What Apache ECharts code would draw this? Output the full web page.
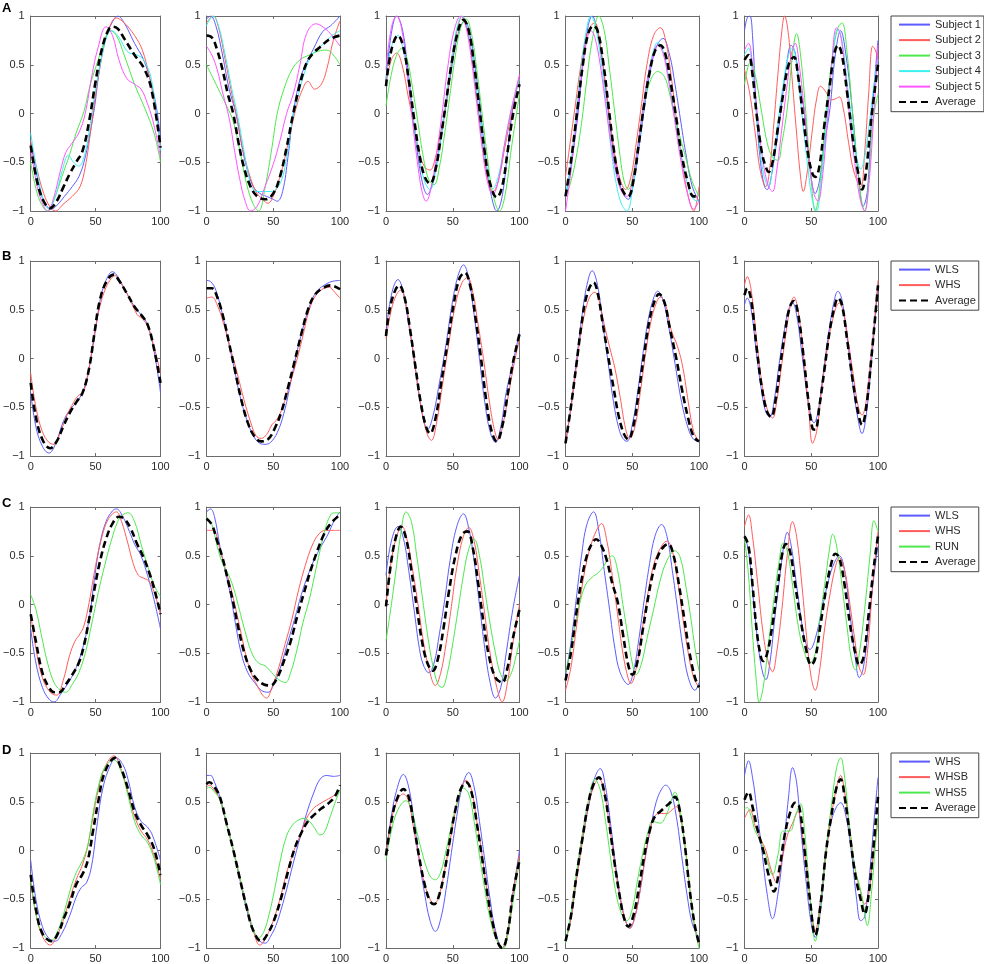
<!DOCTYPE html>
<html>
<head>
<meta charset="utf-8">
<title>Subject curves</title>
<script src="https://cdn.jsdelivr.net/npm/echarts@6/dist/echarts.min.js"></script>
<style>
  html, body { margin: 0; background: #fff; }
  #chart { width: 984px; height: 964px; }
</style>
</head>
<body>
<div id="chart"></div>
<script>
// axis ticks
const xTicks = [0, 50, 100];
const yTicks = [-1, -0.5, 0, 0.5, 1];

// legend labels per row
const rowLetters = ['A', 'B', 'C', 'D'];
const labelsA = ['Subject 1', 'Subject 2', 'Subject 3', 'Subject 4', 'Subject 5', 'Average'];
const labelsB = ['WLS', 'WHS', 'Average'];
const labelsC = ['WLS', 'WHS', 'RUN', 'Average'];
const labelsD = ['WHS', 'WHSB', 'WHS5', 'Average'];

// each panel: one [x, y] list per legend entry, same order as the labels
const panelA1 = [
  [[0,-0.3],[5,-0.65],[10,-0.9],[16,-0.98],[21,-0.93],[26,-0.85],[32,-0.75],[37,-0.65],[41,-0.5],[45,-0.25],[49,0.05],[53,0.45],[58,0.78],[63,0.94],[67,1.0],[72,0.93],[80,0.72],[87,0.55],[93,0.3],[97,0.05],[100,-0.25]],
  [[0,-0.28],[5,-0.58],[10,-0.82],[15,-0.96],[19,-1.0],[25,-0.93],[32,-0.85],[38,-0.75],[42,-0.55],[46,-0.2],[50,0.2],[55,0.6],[60,0.86],[66,0.98],[72,0.93],[80,0.8],[86,0.65],[91,0.4],[96,0.05],[100,-0.35]],
  [[0,-0.5],[5,-0.82],[10,-0.97],[13,-1.0],[18,-0.88],[24,-0.65],[30,-0.42],[35,-0.2],[41,0.02],[46,0.3],[52,0.55],[57,0.75],[61,0.85],[66,0.8],[72,0.6],[80,0.3],[88,0.05],[95,-0.2],[100,-0.5]],
  [[0,-0.2],[5,-0.6],[10,-0.9],[14,-0.98],[19,-0.85],[24,-0.6],[29,-0.43],[33,-0.5],[37,-0.54],[42,-0.4],[46,-0.1],[50,0.25],[55,0.6],[59,0.8],[62,0.85],[67,0.8],[75,0.63],[82,0.6],[87,0.55],[93,0.35],[100,-0.38]],
  [[0,-0.35],[5,-0.75],[10,-0.95],[13,-1.0],[18,-0.85],[23,-0.58],[27,-0.4],[31,-0.32],[37,-0.2],[42,0],[47,0.38],[52,0.68],[58,0.89],[63,0.8],[68,0.55],[74,0.36],[80,0.3],[85,0.25],[90,0.1],[95,-0.12],[100,-0.45]],
  [[0,-0.33],[5,-0.7],[10,-0.9],[15,-0.97],[20,-0.9],[25,-0.76],[30,-0.62],[35,-0.5],[40,-0.38],[45,-0.08],[50,0.33],[55,0.67],[60,0.86],[63,0.89],[67,0.87],[72,0.77],[80,0.6],[87,0.47],[93,0.25],[100,-0.35]]
];
const panelA2 = [
  [[0,0.97],[3,1.0],[7,0.9],[12,0.6],[17,0.25],[22,0],[26,-0.3],[30,-0.55],[35,-0.75],[40,-0.82],[45,-0.85],[50,-0.88],[53,-0.9],[57,-0.8],[61,-0.45],[65,0],[70,0.35],[75,0.52],[80,0.66],[87,0.84],[93,0.9],[100,1.0]],
  [[0,0.93],[5,1.0],[9,0.88],[14,0.55],[19,0.2],[23,-0.05],[27,-0.35],[32,-0.62],[37,-0.8],[42,-0.88],[46,-0.92],[50,-0.85],[56,-0.6],[62,-0.25],[67,0.05],[72,0.25],[76,0.33],[81,0.25],[86,0.3],[90,0.45],[95,0.75],[100,0.95]],
  [[0,0.5],[5,0.36],[10,0.22],[15,0.08],[20,-0.08],[25,-0.38],[30,-0.72],[35,-0.93],[39,-1.0],[44,-0.75],[49,-0.35],[53,0],[58,0.25],[64,0.45],[70,0.55],[77,0.6],[84,0.64],[90,0.65],[95,0.6],[100,0.5]],
  [[0,0.9],[5,1.0],[9,0.9],[14,0.6],[19,0.25],[23,0],[27,-0.3],[31,-0.6],[35,-0.78],[40,-0.8],[48,-0.8],[55,-0.72],[60,-0.45],[64,-0.1],[68,0.15],[73,0.4],[78,0.58],[83,0.66],[88,0.72],[94,0.8],[100,0.85]],
  [[0,0.69],[4,0.6],[8,0.45],[12,0.22],[17,-0.05],[21,-0.38],[25,-0.68],[29,-0.9],[33,-1.0],[38,-0.95],[43,-0.78],[50,-0.52],[55,-0.28],[60,0],[65,0.2],[70,0.5],[75,0.82],[82,0.92],[88,0.88],[94,0.8],[100,0.69]],
  [[0,0.8],[4,0.78],[8,0.65],[12,0.45],[16,0.2],[20,0],[24,-0.3],[28,-0.55],[33,-0.75],[38,-0.85],[44,-0.88],[50,-0.82],[55,-0.65],[60,-0.35],[65,0],[70,0.3],[75,0.52],[80,0.62],[85,0.68],[92,0.76],[100,0.8]]
];
const panelA3 = [
  [[0,0.35],[4,0.82],[8,1.0],[12,0.88],[16,0.5],[20,0],[24,-0.45],[28,-0.75],[31,-0.83],[35,-0.7],[40,-0.35],[44,0],[49,0.45],[54,0.82],[59,0.95],[63,0.8],[67,0.45],[71,0],[75,-0.5],[79,-0.85],[83,-1.0],[87,-0.85],[91,-0.4],[95,0.05],[100,0.38]],
  [[0,0.3],[4,0.55],[8,0.62],[12,0.5],[17,0.15],[20,-0.05],[25,-0.4],[29,-0.55],[33,-0.58],[37,-0.45],[41,-0.2],[45,0.1],[50,0.6],[54,0.9],[57,1.0],[61,0.85],[65,0.5],[69,0.05],[73,-0.4],[77,-0.72],[80,-0.8],[84,-0.7],[89,-0.35],[94,0],[100,0.38]],
  [[0,0.08],[4,0.4],[8,0.6],[12,0.67],[16,0.55],[20,0.25],[24,-0.1],[28,-0.45],[32,-0.68],[36,-0.73],[40,-0.55],[44,-0.2],[48,0.2],[52,0.6],[56,0.88],[60,0.97],[64,0.82],[68,0.45],[72,0.0],[76,-0.45],[80,-0.82],[85,-1.0],[89,-0.85],[94,-0.35],[100,0.2]],
  [[0,0.35],[4,0.68],[9,0.8],[13,0.65],[17,0.3],[21,-0.1],[25,-0.45],[29,-0.7],[33,-0.78],[37,-0.6],[41,-0.25],[45,0.15],[49,0.55],[53,0.87],[57,1.0],[61,0.88],[65,0.55],[69,0.1],[73,-0.35],[77,-0.67],[80,-0.77],[84,-0.65],[89,-0.3],[94,0.05],[100,0.35]],
  [[0,0.45],[4,0.88],[8,1.0],[12,0.85],[16,0.4],[20,-0.1],[24,-0.55],[27,-0.8],[30,-0.9],[34,-0.75],[38,-0.4],[42,0],[46,0.45],[51,0.85],[56,1.0],[60,0.88],[64,0.55],[68,0.1],[72,-0.35],[76,-0.7],[80,-0.83],[84,-0.7],[89,-0.3],[94,0.05],[100,0.4]],
  [[0,0.28],[4,0.65],[9,0.8],[13,0.68],[17,0.35],[21,-0.05],[25,-0.42],[29,-0.65],[33,-0.72],[37,-0.58],[41,-0.25],[45,0.12],[49,0.5],[54,0.85],[58,0.96],[62,0.85],[66,0.5],[70,0.05],[74,-0.4],[78,-0.72],[83,-0.86],[87,-0.75],[91,-0.4],[95,-0.02],[100,0.3]]
];
const panelA4 = [
  [[0,-0.85],[4,-0.55],[9,-0.05],[13,0.5],[17,0.9],[20,1.0],[23,0.9],[27,0.6],[31,0.15],[35,-0.3],[39,-0.62],[43,-0.82],[47,-0.88],[51,-0.7],[55,-0.35],[59,0.05],[63,0.4],[68,0.68],[73,0.77],[78,0.6],[82,0.3],[86,-0.05],[90,-0.4],[95,-0.75],[100,-0.9]],
  [[0,-0.65],[3,-0.35],[7,0.05],[11,0.45],[15,0.75],[19,0.9],[22,0.93],[26,0.7],[30,0.3],[34,-0.15],[38,-0.5],[42,-0.72],[45,-0.78],[49,-0.65],[53,-0.3],[57,0.1],[61,0.5],[66,0.8],[71,0.88],[75,0.75],[79,0.4],[83,-0.05],[88,-0.55],[92,-0.85],[96,-1.0],[100,-0.75]],
  [[0,-0.85],[4,-0.7],[8,-0.45],[12,-0.1],[16,0.35],[20,0.75],[25,1.0],[29,0.85],[33,0.45],[37,0],[41,-0.45],[44,-0.7],[47,-0.78],[51,-0.6],[55,-0.25],[59,0.1],[64,0.35],[69,0.43],[74,0.38],[78,0.2],[82,-0.05],[86,-0.25],[90,-0.45],[95,-0.7],[100,-0.85]],
  [[0,-0.85],[4,-0.5],[8,0],[12,0.5],[16,0.88],[19,1.0],[22,0.92],[26,0.6],[30,0.15],[34,-0.35],[38,-0.72],[42,-0.93],[46,-1.0],[50,-0.8],[54,-0.4],[58,0],[62,0.4],[66,0.65],[69,0.73],[74,0.6],[78,0.3],[82,-0.05],[87,-0.45],[92,-0.75],[96,-0.88],[100,-0.9]],
  [[0,-1.0],[4,-0.6],[8,-0.1],[12,0.4],[16,0.75],[19,0.85],[22,0.78],[26,0.5],[30,0.1],[34,-0.3],[38,-0.62],[42,-0.8],[46,-0.85],[50,-0.7],[54,-0.35],[58,0.05],[62,0.4],[66,0.62],[69,0.7],[73,0.62],[77,0.35],[81,0],[86,-0.45],[91,-0.8],[96,-0.98],[100,-0.9]],
  [[0,-0.85],[4,-0.5],[9,0.05],[13,0.5],[17,0.82],[21,0.9],[24,0.85],[28,0.55],[32,0.1],[36,-0.35],[40,-0.68],[44,-0.82],[47,-0.85],[51,-0.68],[55,-0.3],[59,0.1],[63,0.42],[67,0.64],[71,0.7],[75,0.6],[79,0.3],[83,-0.05],[87,-0.42],[92,-0.72],[96,-0.85],[100,-0.85]]
];
const panelA5 = [
  [[0,0.85],[2,0.98],[4,1.0],[6,0.8],[9,0.0],[12,-0.5],[15,-0.75],[17,-0.78],[20,-0.65],[24,-0.3],[27,0],[31,0.45],[35,0.7],[38,0.62],[41,0.3],[45,0],[49,-0.55],[53,-0.82],[56,-0.7],[60,-0.3],[64,0.05],[68,0.6],[72,0.85],[76,0.6],[81,0],[85,-0.6],[89,-0.95],[92,-0.8],[95,-0.1],[100,0.75]],
  [[0,0.45],[4,0.2],[8,-0.2],[12,-0.6],[16,-0.75],[19,-0.55],[22,-0.1],[25,0.4],[28,0.85],[30,1.0],[33,0.8],[36,0.3],[39,-0.2],[42,-0.65],[44,-0.8],[47,-0.6],[51,-0.15],[54,0.15],[57,0.28],[61,0.22],[65,0.14],[68,0.15],[71,0.17],[74,0.05],[78,-0.3],[82,-0.6],[87,-0.75],[90,-0.4],[93,0.2],[96,0.69],[98,0.65],[100,0.55]],
  [[0,0.3],[3,0.5],[5,0.53],[8,0.4],[13,0.0],[17,-0.3],[21,-0.45],[25,-0.48],[28,-0.3],[32,0.05],[36,0.6],[39,0.82],[42,0.6],[46,0.0],[50,-0.7],[53,-1.0],[56,-0.8],[61,0.0],[66,0.6],[70,0.88],[73,0.93],[77,0.6],[81,0.0],[85,-0.6],[88,-0.92],[90,-1.0],[93,-0.7],[96,-0.1],[100,0.2]],
  [[0,0.6],[3,0.67],[6,0.4],[10,-0.15],[14,-0.6],[18,-0.75],[21,-0.55],[25,-0.1],[29,0.3],[33,0.6],[36,0.68],[39,0.5],[43,0.0],[47,-0.5],[51,-0.9],[54,-1.0],[57,-0.75],[61,-0.15],[65,0.45],[70,0.87],[73,0.75],[77,0.3],[81,-0.15],[84,-0.45],[87,-0.57],[90,-0.45],[94,-0.05],[97,0.3],[100,0.55]],
  [[0,0.65],[3,0.72],[6,0.5],[10,-0.05],[14,-0.5],[18,-0.75],[21,-0.8],[24,-0.6],[28,-0.15],[32,0.3],[35,0.6],[38,0.72],[41,0.5],[45,0.0],[49,-0.55],[52,-0.82],[55,-0.9],[58,-0.7],[62,-0.1],[65,0.45],[69,0.88],[72,0.8],[76,0.35],[80,-0.2],[84,-0.65],[87,-0.9],[90,-1.0],[93,-0.75],[96,-0.2],[100,0.7]],
  [[0,0.55],[3,0.6],[6,0.4],[9,0.0],[13,-0.4],[16,-0.55],[18,-0.6],[21,-0.5],[25,-0.15],[29,0.2],[33,0.5],[37,0.58],[40,0.4],[44,-0.05],[48,-0.45],[51,-0.62],[53,-0.65],[56,-0.55],[60,-0.1],[64,0.3],[67,0.6],[70,0.7],[73,0.6],[77,0.2],[81,-0.25],[85,-0.6],[88,-0.78],[91,-0.6],[95,-0.05],[100,0.5]]
];

const panelB1 = [
  [[0,-0.35],[4,-0.7],[9,-0.9],[14,-0.97],[19,-0.88],[25,-0.65],[30,-0.53],[37,-0.42],[42,-0.27],[46,-0.02],[50,0.3],[54,0.63],[58,0.8],[63,0.89],[67,0.84],[72,0.72],[80,0.53],[85,0.45],[90,0.35],[95,0.08],[100,-0.35]],
  [[0,-0.15],[4,-0.5],[9,-0.75],[14,-0.86],[18,-0.88],[23,-0.75],[28,-0.58],[33,-0.45],[36,-0.39],[41,-0.33],[45,-0.1],[49,0.25],[53,0.52],[58,0.73],[62,0.82],[65,0.85],[70,0.76],[76,0.62],[82,0.45],[86,0.41],[90,0.33],[95,0.12],[100,-0.15]],
  [[0,-0.25],[4,-0.6],[9,-0.83],[15,-0.92],[20,-0.85],[25,-0.7],[30,-0.56],[35,-0.45],[40,-0.35],[45,-0.1],[49,0.25],[53,0.58],[58,0.78],[64,0.86],[68,0.8],[74,0.67],[80,0.53],[85,0.45],[90,0.35],[95,0.1],[100,-0.25]]
];
const panelB2 = [
  [[0,0.8],[3,0.79],[7,0.7],[12,0.45],[16,0.2],[20,-0.05],[25,-0.38],[30,-0.62],[35,-0.79],[40,-0.87],[44,-0.88],[48,-0.86],[53,-0.76],[58,-0.56],[63,-0.25],[67,0.02],[72,0.3],[77,0.53],[82,0.68],[88,0.75],[94,0.79],[100,0.8]],
  [[0,0.62],[4,0.63],[8,0.55],[13,0.35],[18,0.1],[23,-0.15],[28,-0.42],[33,-0.65],[37,-0.79],[41,-0.82],[45,-0.78],[49,-0.68],[53,-0.62],[57,-0.5],[62,-0.28],[67,-0.05],[72,0.22],[77,0.5],[82,0.65],[88,0.72],[92,0.73],[96,0.68],[100,0.62]],
  [[0,0.72],[4,0.72],[8,0.63],[13,0.4],[17,0.15],[21,-0.1],[26,-0.42],[31,-0.66],[36,-0.8],[41,-0.85],[46,-0.83],[51,-0.72],[56,-0.55],[61,-0.3],[66,-0.03],[71,0.25],[76,0.5],[81,0.65],[87,0.72],[93,0.75],[100,0.71]]
];
const panelB3 = [
  [[0,0.25],[4,0.65],[9,0.81],[13,0.68],[17,0.35],[21,0.0],[25,-0.4],[28,-0.62],[31,-0.73],[35,-0.6],[40,-0.25],[45,0.15],[50,0.6],[54,0.85],[58,0.96],[62,0.82],[66,0.45],[70,0.0],[74,-0.45],[78,-0.75],[82,-0.86],[86,-0.7],[90,-0.35],[95,-0.05],[100,0.27]],
  [[0,0.2],[4,0.5],[8,0.66],[11,0.7],[15,0.55],[19,0.2],[23,-0.2],[27,-0.55],[31,-0.78],[34,-0.84],[38,-0.65],[42,-0.3],[47,0.15],[52,0.55],[57,0.78],[61,0.83],[65,0.68],[69,0.35],[73,0.0],[77,-0.4],[81,-0.72],[84,-0.83],[88,-0.65],[92,-0.35],[96,-0.05],[100,0.2]],
  [[0,0.23],[4,0.58],[10,0.75],[14,0.62],[18,0.3],[22,-0.08],[26,-0.45],[30,-0.7],[33,-0.77],[37,-0.62],[41,-0.28],[46,0.15],[51,0.58],[55,0.82],[59,0.88],[63,0.75],[67,0.42],[71,0.02],[75,-0.42],[79,-0.74],[83,-0.85],[87,-0.7],[91,-0.38],[95,-0.05],[100,0.25]]
];
const panelB4 = [
  [[0,-0.87],[4,-0.5],[8,-0.05],[12,0.4],[16,0.75],[20,0.9],[24,0.75],[28,0.35],[32,-0.05],[36,-0.45],[40,-0.72],[43,-0.82],[46,-0.85],[50,-0.68],[54,-0.35],[58,0.05],[62,0.4],[66,0.62],[69,0.69],[73,0.6],[77,0.35],[82,-0.05],[87,-0.45],[92,-0.72],[96,-0.83],[100,-0.85]],
  [[0,-0.87],[4,-0.52],[8,-0.1],[12,0.3],[16,0.55],[19,0.65],[22,0.68],[25,0.6],[29,0.35],[33,0.12],[37,-0.1],[41,-0.4],[45,-0.72],[48,-0.82],[52,-0.7],[56,-0.35],[60,0.05],[64,0.38],[68,0.57],[71,0.63],[75,0.55],[79,0.3],[84,0.12],[88,-0.1],[92,-0.45],[96,-0.75],[100,-0.85]],
  [[0,-0.87],[4,-0.5],[8,-0.08],[12,0.35],[16,0.65],[21,0.78],[24,0.68],[28,0.35],[32,0.02],[36,-0.3],[40,-0.6],[44,-0.78],[47,-0.83],[51,-0.68],[55,-0.33],[59,0.05],[63,0.4],[67,0.6],[70,0.66],[74,0.58],[78,0.32],[83,0.0],[87,-0.3],[92,-0.62],[96,-0.8],[100,-0.85]]
];
const panelB5 = [
  [[0,0.55],[2,0.62],[5,0.5],[9,0.05],[13,-0.35],[16,-0.55],[19,-0.6],[22,-0.45],[26,-0.05],[30,0.3],[33,0.5],[36,0.57],[39,0.45],[43,0.05],[47,-0.38],[50,-0.6],[52,-0.66],[55,-0.55],[59,-0.15],[63,0.25],[67,0.58],[70,0.69],[73,0.6],[77,0.2],[81,-0.25],[85,-0.62],[88,-0.77],[91,-0.6],[95,-0.05],[100,0.75]],
  [[0,0.75],[2,0.84],[5,0.7],[9,0.2],[13,-0.25],[17,-0.52],[21,-0.61],[24,-0.45],[28,-0.05],[32,0.35],[35,0.58],[37,0.63],[40,0.5],[44,0.05],[48,-0.5],[51,-0.87],[54,-0.75],[58,-0.3],[62,0.1],[66,0.4],[71,0.57],[74,0.48],[78,0.15],[82,-0.22],[85,-0.48],[88,-0.58],[91,-0.45],[95,0.05],[100,0.8]],
  [[0,0.65],[2,0.72],[5,0.6],[9,0.12],[13,-0.3],[17,-0.55],[20,-0.6],[23,-0.45],[27,-0.05],[31,0.33],[34,0.53],[37,0.59],[40,0.47],[44,0.05],[48,-0.45],[51,-0.72],[53,-0.73],[56,-0.5],[60,-0.1],[64,0.3],[68,0.56],[70,0.62],[73,0.55],[77,0.18],[81,-0.22],[85,-0.55],[88,-0.68],[91,-0.52],[95,0.0],[100,0.75]]
];

const panelC1 = [
  [[0,-0.25],[4,-0.6],[9,-0.85],[14,-0.97],[18,-1.0],[23,-0.92],[30,-0.78],[35,-0.65],[40,-0.45],[45,-0.15],[49,0.25],[53,0.6],[58,0.85],[63,0.96],[66,0.98],[71,0.9],[76,0.75],[80,0.62],[85,0.5],[90,0.3],[95,0.05],[100,-0.25]],
  [[0,-0.1],[4,-0.45],[9,-0.75],[15,-0.9],[20,-0.93],[25,-0.78],[30,-0.52],[34,-0.38],[38,-0.3],[41,-0.22],[45,0.02],[50,0.4],[55,0.7],[60,0.88],[66,0.95],[70,0.85],[75,0.62],[79,0.42],[83,0.3],[87,0.27],[91,0.24],[95,0.13],[100,-0.1]],
  [[0,0.1],[4,-0.05],[8,-0.3],[13,-0.6],[18,-0.8],[23,-0.88],[27,-0.9],[32,-0.82],[37,-0.7],[42,-0.5],[47,-0.2],[52,0.12],[57,0.4],[62,0.65],[67,0.85],[71,0.92],[75,0.94],[80,0.85],[85,0.62],[90,0.4],[95,0.2],[100,0.08]],
  [[0,-0.1],[4,-0.38],[9,-0.7],[14,-0.85],[18,-0.9],[22,-0.9],[27,-0.82],[32,-0.72],[37,-0.6],[41,-0.42],[45,-0.15],[49,0.15],[53,0.42],[58,0.67],[63,0.83],[68,0.9],[72,0.88],[77,0.78],[82,0.62],[87,0.48],[92,0.3],[96,0.12],[100,-0.1]]
];
const panelC2 = [
  [[0,0.95],[3,0.98],[6,0.9],[10,0.6],[14,0.35],[18,0.1],[22,-0.22],[26,-0.5],[31,-0.7],[36,-0.8],[41,-0.88],[46,-0.9],[51,-0.8],[56,-0.62],[61,-0.38],[66,-0.15],[71,0.1],[76,0.3],[81,0.47],[86,0.6],[91,0.72],[96,0.87],[100,0.95]],
  [[0,0.76],[5,0.76],[9,0.62],[13,0.42],[18,0.18],[22,-0.05],[26,-0.3],[30,-0.55],[34,-0.72],[38,-0.83],[42,-0.93],[45,-0.96],[49,-0.85],[54,-0.65],[59,-0.4],[64,-0.15],[69,0.15],[74,0.4],[79,0.6],[84,0.72],[89,0.76],[95,0.76],[100,0.76]],
  [[0,0.9],[4,0.82],[8,0.6],[12,0.42],[16,0.32],[20,0.18],[24,-0.02],[29,-0.28],[34,-0.5],[39,-0.6],[44,-0.63],[49,-0.7],[54,-0.77],[59,-0.8],[63,-0.7],[68,-0.45],[72,-0.2],[77,0.05],[81,0.3],[85,0.55],[89,0.78],[93,0.92],[96,0.94],[100,0.94]],
  [[0,0.88],[4,0.82],[8,0.65],[12,0.48],[16,0.25],[20,0.02],[24,-0.25],[28,-0.48],[33,-0.67],[38,-0.77],[43,-0.82],[48,-0.83],[53,-0.75],[58,-0.58],[63,-0.38],[68,-0.12],[73,0.12],[78,0.35],[83,0.55],[88,0.72],[93,0.83],[100,0.92]]
];
const panelC3 = [
  [[0,0.3],[4,0.65],[9,0.8],[13,0.68],[17,0.35],[21,-0.05],[25,-0.45],[28,-0.62],[32,-0.7],[36,-0.6],[40,-0.3],[44,0.05],[48,0.45],[53,0.8],[58,0.93],[62,0.78],[66,0.45],[70,0.0],[74,-0.45],[78,-0.8],[82,-0.96],[86,-0.85],[90,-0.5],[95,-0.05],[100,0.3]],
  [[0,0.0],[4,0.45],[8,0.7],[12,0.8],[16,0.65],[20,0.35],[24,0.0],[28,-0.38],[32,-0.65],[37,-0.83],[41,-0.7],[45,-0.4],[49,-0.02],[53,0.38],[58,0.7],[62,0.79],[66,0.65],[70,0.3],[74,-0.1],[78,-0.5],[83,-0.85],[87,-1.0],[91,-0.8],[95,-0.4],[100,0.0]],
  [[0,-0.37],[3,-0.1],[7,0.3],[11,0.72],[15,0.95],[19,0.85],[23,0.5],[27,0.1],[31,-0.3],[35,-0.62],[39,-0.82],[42,-0.85],[46,-0.7],[50,-0.4],[54,-0.05],[58,0.3],[62,0.57],[66,0.67],[70,0.5],[74,0.15],[78,-0.2],[82,-0.5],[86,-0.72],[90,-0.78],[94,-0.7],[97,-0.55],[100,-0.37]],
  [[0,-0.02],[4,0.45],[8,0.72],[11,0.8],[15,0.68],[19,0.35],[23,-0.02],[27,-0.38],[31,-0.6],[35,-0.68],[39,-0.55],[43,-0.25],[47,0.12],[52,0.5],[57,0.72],[61,0.75],[65,0.58],[69,0.22],[73,-0.18],[77,-0.52],[82,-0.75],[87,-0.8],[91,-0.65],[95,-0.35],[100,-0.05]]
];
const panelC4 = [
  [[0,-0.73],[4,-0.4],[8,0.05],[12,0.5],[16,0.82],[21,0.95],[25,0.75],[29,0.35],[33,-0.05],[37,-0.45],[41,-0.7],[47,-0.82],[51,-0.68],[55,-0.35],[59,0.05],[63,0.42],[67,0.7],[72,0.82],[76,0.7],[80,0.35],[84,-0.05],[88,-0.45],[92,-0.75],[97,-0.88],[100,-0.8]],
  [[0,-0.88],[4,-0.65],[8,-0.25],[12,0.15],[16,0.45],[20,0.65],[24,0.78],[27,0.83],[31,0.65],[35,0.3],[39,-0.1],[43,-0.5],[47,-0.76],[49,-0.81],[53,-0.65],[57,-0.3],[61,0.05],[65,0.35],[70,0.55],[76,0.65],[80,0.55],[84,0.25],[88,-0.15],[92,-0.5],[96,-0.75],[100,-0.85]],
  [[0,-0.7],[4,-0.45],[8,-0.15],[11,0.03],[15,0.2],[20,0.28],[24,0.32],[28,0.38],[32,0.47],[35,0.5],[39,0.35],[43,0.0],[47,-0.35],[50,-0.6],[53,-0.72],[57,-0.6],[61,-0.35],[66,-0.05],[71,0.25],[76,0.45],[82,0.55],[86,0.48],[90,0.2],[94,-0.15],[97,-0.45],[100,-0.68]],
  [[0,-0.78],[4,-0.5],[8,-0.1],[12,0.25],[16,0.5],[20,0.63],[23,0.67],[27,0.6],[31,0.45],[35,0.22],[39,0.03],[43,-0.3],[47,-0.62],[50,-0.72],[54,-0.58],[58,-0.25],[62,0.08],[66,0.35],[70,0.52],[74,0.6],[77,0.62],[81,0.5],[85,0.2],[89,-0.15],[93,-0.5],[97,-0.75],[100,-0.85]]
];
const panelC5 = [
  [[0,0.7],[3,0.55],[7,0.0],[11,-0.5],[14,-0.72],[16,-0.77],[19,-0.6],[23,-0.1],[27,0.35],[30,0.65],[32,0.74],[35,0.6],[39,0.2],[43,-0.2],[46,-0.4],[49,-0.46],[53,-0.35],[58,-0.05],[63,0.25],[67,0.42],[71,0.5],[75,0.35],[79,-0.1],[83,-0.55],[86,-0.75],[89,-0.65],[93,-0.2],[97,0.3],[100,0.6]],
  [[0,0.8],[3,0.92],[6,0.7],[10,0.2],[14,-0.3],[18,-0.6],[21,-0.69],[24,-0.5],[28,-0.05],[32,0.5],[36,0.85],[39,0.7],[43,0.2],[47,-0.4],[50,-0.75],[53,-0.88],[56,-0.7],[60,-0.25],[64,0.1],[68,0.38],[71,0.48],[75,0.35],[79,0.0],[83,-0.4],[86,-0.65],[89,-0.72],[92,-0.5],[96,0.2],[100,0.75]],
  [[0,0.68],[3,0.3],[6,-0.3],[9,-0.8],[11,-1.0],[14,-0.85],[18,-0.4],[22,0.05],[26,0.45],[29,0.63],[32,0.55],[36,0.2],[40,-0.2],[44,-0.45],[49,-0.6],[53,-0.5],[57,-0.1],[61,0.3],[64,0.6],[66,0.72],[69,0.6],[73,0.2],[77,-0.25],[80,-0.55],[83,-0.67],[86,-0.5],[90,-0.05],[94,0.5],[97,0.86],[100,0.75]],
  [[0,0.7],[3,0.6],[6,0.2],[9,-0.25],[12,-0.52],[14,-0.58],[17,-0.5],[21,-0.2],[25,0.2],[28,0.5],[31,0.62],[34,0.55],[38,0.2],[42,-0.15],[46,-0.45],[50,-0.62],[53,-0.55],[57,-0.2],[61,0.15],[65,0.42],[68,0.52],[71,0.48],[75,0.2],[79,-0.2],[83,-0.5],[86,-0.62],[89,-0.55],[93,-0.1],[97,0.4],[100,0.7]]
];

const panelD1 = [
  [[0,-0.1],[4,-0.5],[9,-0.78],[14,-0.9],[19,-0.93],[24,-0.85],[30,-0.67],[35,-0.48],[39,-0.38],[43,-0.33],[47,-0.15],[51,0.25],[55,0.6],[60,0.83],[66,0.95],[71,0.88],[75,0.73],[80,0.45],[85,0.3],[90,0.24],[94,0.15],[100,-0.1]],
  [[0,-0.3],[4,-0.65],[9,-0.88],[15,-0.97],[20,-0.88],[25,-0.72],[30,-0.5],[35,-0.3],[40,-0.14],[44,0.05],[48,0.35],[52,0.62],[57,0.85],[64,0.97],[70,0.82],[75,0.59],[80,0.35],[85,0.2],[90,0.11],[95,-0.05],[100,-0.3]],
  [[0,-0.3],[4,-0.65],[9,-0.85],[16,-0.92],[21,-0.82],[26,-0.62],[31,-0.38],[35,-0.23],[40,-0.1],[44,0.05],[48,0.38],[52,0.65],[57,0.85],[64,0.93],[70,0.8],[75,0.56],[80,0.3],[85,0.16],[90,0.08],[95,-0.08],[100,-0.35]],
  [[0,-0.25],[4,-0.6],[9,-0.85],[16,-0.93],[21,-0.85],[26,-0.68],[30,-0.55],[35,-0.35],[40,-0.24],[44,-0.1],[48,0.2],[52,0.5],[57,0.8],[65,0.95],[70,0.83],[75,0.63],[80,0.4],[85,0.26],[90,0.16],[95,0.02],[100,-0.25]]
];
const panelD2 = [
  [[0,0.77],[3,0.77],[6,0.7],[10,0.55],[15,0.28],[20,0.01],[25,-0.3],[30,-0.6],[35,-0.82],[40,-0.93],[44,-0.95],[48,-0.88],[52,-0.77],[56,-0.6],[60,-0.4],[65,-0.13],[70,0.13],[75,0.38],[80,0.58],[85,0.73],[90,0.77],[95,0.76],[100,0.77]],
  [[0,0.65],[2,0.67],[6,0.62],[10,0.52],[15,0.27],[20,0.01],[25,-0.28],[30,-0.57],[35,-0.82],[40,-0.97],[45,-0.88],[50,-0.72],[55,-0.5],[60,-0.23],[65,-0.02],[70,0.15],[75,0.33],[80,0.43],[85,0.48],[90,0.52],[95,0.56],[100,0.62]],
  [[0,0.63],[2,0.65],[6,0.6],[10,0.52],[15,0.27],[20,0.01],[25,-0.28],[30,-0.57],[35,-0.8],[39,-0.9],[43,-0.83],[47,-0.65],[51,-0.4],[55,-0.12],[60,0.15],[65,0.27],[70,0.32],[73,0.33],[77,0.3],[81,0.23],[85,0.16],[88,0.18],[92,0.32],[96,0.48],[100,0.62]],
  [[0,0.68],[2,0.7],[6,0.65],[10,0.55],[15,0.28],[20,0.01],[25,-0.29],[30,-0.58],[35,-0.82],[41,-0.93],[46,-0.85],[51,-0.7],[56,-0.48],[61,-0.22],[66,0.02],[71,0.18],[76,0.3],[81,0.37],[86,0.43],[91,0.48],[96,0.55],[100,0.67]]
];
const panelD3 = [
  [[0,-0.05],[4,0.35],[8,0.62],[13,0.78],[17,0.65],[21,0.3],[25,-0.1],[29,-0.45],[33,-0.72],[37,-0.83],[41,-0.7],[45,-0.4],[49,-0.02],[53,0.35],[57,0.65],[62,0.8],[66,0.65],[70,0.3],[74,-0.1],[78,-0.5],[82,-0.82],[87,-1.0],[91,-0.85],[95,-0.45],[100,0.0]],
  [[0,-0.05],[4,0.3],[8,0.5],[13,0.58],[17,0.5],[21,0.2],[25,-0.1],[29,-0.35],[33,-0.5],[36,-0.55],[40,-0.45],[44,-0.2],[48,0.1],[52,0.4],[56,0.62],[60,0.72],[64,0.62],[68,0.3],[72,-0.05],[76,-0.45],[80,-0.75],[84,-0.95],[87,-1.0],[91,-0.85],[95,-0.45],[100,-0.05]],
  [[0,-0.1],[4,0.2],[9,0.42],[15,0.51],[19,0.42],[23,0.2],[27,-0.02],[31,-0.2],[34,-0.28],[37,-0.3],[41,-0.22],[45,0.0],[49,0.25],[53,0.48],[58,0.64],[62,0.58],[66,0.3],[70,-0.05],[74,-0.4],[78,-0.7],[83,-0.92],[88,-1.0],[92,-0.8],[96,-0.45],[100,-0.1]],
  [[0,-0.05],[4,0.3],[8,0.52],[13,0.63],[17,0.55],[21,0.25],[25,-0.08],[29,-0.35],[33,-0.52],[36,-0.55],[40,-0.45],[44,-0.2],[48,0.12],[52,0.42],[56,0.63],[60,0.7],[64,0.6],[68,0.28],[72,-0.08],[76,-0.45],[80,-0.75],[84,-0.95],[87,-1.0],[91,-0.85],[95,-0.45],[100,-0.1]]
];
const panelD4 = [
  [[0,-0.93],[4,-0.7],[8,-0.3],[13,0.15],[18,0.5],[22,0.75],[26,0.84],[30,0.65],[34,0.25],[38,-0.2],[42,-0.55],[45,-0.72],[48,-0.8],[52,-0.68],[56,-0.4],[60,-0.05],[64,0.25],[68,0.5],[72,0.63],[75,0.67],[79,0.6],[83,0.35],[87,-0.05],[91,-0.45],[95,-0.75],[100,-0.9]],
  [[0,-0.93],[4,-0.7],[8,-0.32],[13,0.12],[17,0.45],[21,0.65],[25,0.74],[29,0.6],[33,0.25],[37,-0.15],[41,-0.5],[45,-0.72],[48,-0.8],[52,-0.68],[56,-0.4],[60,-0.05],[64,0.25],[68,0.37],[72,0.38],[76,0.38],[80,0.42],[83,0.45],[86,0.35],[90,0.0],[94,-0.5],[97,-0.8],[100,-0.95]],
  [[0,-0.95],[4,-0.65],[8,-0.25],[13,0.2],[17,0.5],[22,0.73],[26,0.62],[30,0.3],[34,-0.1],[38,-0.45],[42,-0.65],[46,-0.72],[50,-0.6],[54,-0.3],[58,-0.02],[62,0.2],[65,0.3],[68,0.29],[71,0.28],[75,0.35],[79,0.5],[82,0.6],[85,0.48],[89,0.1],[93,-0.4],[97,-0.8],[100,-1.0]],
  [[0,-0.93],[4,-0.68],[8,-0.28],[13,0.15],[17,0.48],[21,0.68],[25,0.75],[29,0.6],[33,0.25],[37,-0.15],[41,-0.5],[44,-0.7],[47,-0.78],[51,-0.66],[55,-0.38],[59,-0.05],[63,0.2],[67,0.35],[71,0.4],[75,0.45],[79,0.5],[82,0.55],[85,0.45],[89,0.1],[93,-0.4],[97,-0.78],[100,-0.95]]
];
const panelD5 = [
  [[0,0.77],[3,0.92],[6,0.75],[9,0.45],[13,0.0],[17,-0.45],[21,-0.7],[25,-0.45],[29,0.0],[33,0.55],[36,0.85],[39,0.7],[42,0.25],[46,-0.3],[50,-0.75],[53,-0.89],[57,-0.6],[61,0.0],[65,0.3],[69,0.45],[72,0.49],[76,0.35],[80,0.0],[84,-0.5],[87,-0.72],[90,-0.68],[94,-0.2],[97,0.3],[100,0.75]],
  [[0,0.33],[4,0.42],[8,0.25],[12,0.12],[16,0.0],[20,-0.2],[24,-0.33],[28,-0.1],[32,0.15],[36,0.28],[40,0.4],[43,0.2],[47,-0.25],[50,-0.6],[53,-0.82],[57,-0.5],[61,-0.05],[65,0.35],[69,0.65],[72,0.77],[75,0.6],[79,0.2],[83,-0.2],[87,-0.42],[90,-0.55],[93,-0.45],[96,-0.1],[100,0.3]],
  [[0,0.43],[2,0.44],[5,0.35],[8,0.2],[12,0.1],[16,-0.05],[21,-0.25],[25,-0.05],[29,0.2],[34,0.2],[38,0.35],[42,0.48],[45,0.2],[49,-0.45],[53,-0.93],[57,-0.55],[61,0.0],[65,0.45],[69,0.85],[72,0.95],[75,0.75],[79,0.2],[83,-0.2],[86,-0.35],[89,-0.55],[92,-0.77],[95,-0.45],[98,0.05],[100,0.35]],
  [[0,0.52],[3,0.6],[6,0.45],[10,0.2],[14,0.0],[18,-0.25],[22,-0.42],[26,-0.2],[30,0.15],[34,0.38],[38,0.49],[41,0.45],[45,0.0],[49,-0.5],[53,-0.87],[57,-0.55],[61,-0.02],[65,0.35],[69,0.65],[72,0.73],[75,0.55],[79,0.15],[83,-0.25],[87,-0.5],[90,-0.65],[93,-0.45],[96,-0.05],[100,0.55]]
];

// styling
const FONT = 'Liberation Sans, Arial, sans-serif';
const AXIS = '#6b6b6b';
const TEXT = '#2a2a2a';
const BLUE = '#5c5cff', RED = '#ff5c5c', GREEN = '#4de84d', CYAN = '#3cf0f0', MAGENTA = '#ff55ff';
const colorsA = [BLUE, RED, GREEN, CYAN, MAGENTA];
const colorsB = [BLUE, RED];
const colorsC = [BLUE, RED, GREEN];
const colorsD = [BLUE, RED, GREEN];

const rows = [
  { labels: labelsA, colors: colorsA, panels: [panelA1, panelA2, panelA3, panelA4, panelA5] },
  { labels: labelsB, colors: colorsB, panels: [panelB1, panelB2, panelB3, panelB4, panelB5] },
  { labels: labelsC, colors: colorsC, panels: [panelC1, panelC2, panelC3, panelC4, panelC5] },
  { labels: labelsD, colors: colorsD, panels: [panelD1, panelD2, panelD3, panelD4, panelD5] }
];

const colLeft = [27, 206.5, 386, 565.5, 744.5];
const rowTop = [16, 261, 507, 753];
const letterTop = [2, 250, 497, 744];
const plotW = 133.5, plotH = 195;

const fmtY = v => (v < 0 ? '\u2212' : '') + Math.abs(v);

const grid = [], xAxis = [], yAxis = [], series = [], legend = [], graphic = [];

rows.forEach((row, r) => {
  const letter = rowLetters[r];
  row.panels.forEach((panel, c) => {
    const g = grid.length;
    grid.push({ left: colLeft[c], top: rowTop[r], width: plotW, height: plotH });
    const tick = { inside: true, length: 3, lineStyle: { color: AXIS } };
    const line = { show: true, onZero: false, lineStyle: { color: AXIS, width: 1 } };
    xAxis.push({
      gridIndex: g, type: 'value', min: xTicks[0], max: xTicks[xTicks.length - 1], interval: 50,
      axisLine: line, axisTick: tick, splitLine: { show: false },
      axisLabel: { color: TEXT, fontSize: 11, fontFamily: FONT, margin: 5, showMinLabel: true, showMaxLabel: true }
    });
    xAxis.push({
      gridIndex: g, type: 'value', position: 'top', min: 0, max: 100, interval: 50,
      axisLine: line, axisTick: tick, splitLine: { show: false }, axisLabel: { show: false }
    });
    yAxis.push({
      gridIndex: g, type: 'value', min: yTicks[0], max: yTicks[yTicks.length - 1], interval: 0.5,
      axisLine: line, axisTick: tick, splitLine: { show: false },
      axisLabel: { color: TEXT, fontSize: 11, fontFamily: FONT, margin: 6, formatter: fmtY, showMinLabel: true, showMaxLabel: true }
    });
    yAxis.push({
      gridIndex: g, type: 'value', position: 'right', min: -1, max: 1, interval: 0.5,
      axisLine: line, axisTick: tick, splitLine: { show: false }, axisLabel: { show: false }
    });
    panel.forEach((pts, i) => {
      const isAvg = i === panel.length - 1;
      series.push({
        type: 'line',
        name: letter + '|' + row.labels[i],
        xAxisIndex: g * 2, yAxisIndex: g * 2,
        data: pts,
        symbol: 'none', showSymbol: false,
        smooth: 0.4,
        silent: true,
        z: isAvg ? 4 : 3,
        itemStyle: { color: isAvg ? '#000' : row.colors[i] },
        lineStyle: isAvg
          ? { color: '#000', width: 2.6, type: [7, 4] }
          : { color: row.colors[i], width: 1 }
      });
    });
  });

  // line-only legend swatches (the symbol circle is hidden)
  legend.push({
    data: row.labels.map(l => letter + '|' + l),
    formatter: n => n.split('|')[1],
    orient: 'vertical',
    left: 891, top: rowTop[r],
    itemWidth: 31, itemHeight: 14, itemGap: 4.3,
    padding: [3, 3, 4, 7],
    borderColor: '#444', borderWidth: 1, borderRadius: 0,
    backgroundColor: '#fff',
    selectedMode: false,
    itemStyle: { opacity: 0 },
    textStyle: { color: TEXT, fontSize: 11, fontFamily: FONT }
  });

  graphic.push({
    type: 'text', left: 2, top: letterTop[r],
    style: { text: letter, fontSize: 13, fontWeight: 'bold', fontFamily: FONT, fill: '#000' }
  });
});

const chart = echarts.init(document.getElementById('chart'), null, { renderer: 'canvas' });
chart.setOption({
  animation: false,
  backgroundColor: '#fff',
  grid, xAxis, yAxis, series, legend, graphic
});
</script>
</body>
</html>
